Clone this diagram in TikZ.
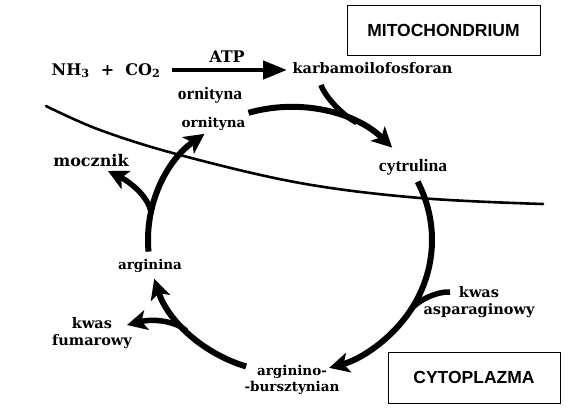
\documentclass[tikz,border=0pt]{standalone}
\usepackage{fontspec}
\setmainfont{DejaVu Serif}
\newfontfamily\timesf{Liberation Serif}
\newfontfamily\arialf{Liberation Sans}
\usetikzlibrary{arrows.meta}
\begin{document}
\begin{tikzpicture}[x=1pt,y=-1pt,
  lbl/.style={font=\fontsize{13.5}{16}\selectfont\bfseries, inner sep=0pt, align=center},
  lblb/.style={font=\fontsize{14.5}{17}\selectfont\bfseries, inner sep=0pt, align=center},
  bigl/.style={font=\fontsize{16}{19}\selectfont\bfseries, inner sep=0pt},
  tlbl/.style={font=\fontsize{17.5}{20}\selectfont\timesf\bfseries, inner sep=0pt},
  boxlbl/.style={draw, line width=1pt, font=\fontsize{17.5}{20}\selectfont\arialf\bfseries},
  tip/.style={-{Stealth[length=20pt,width=20pt,inset=5pt]}},
  cyc/.style={line width=6pt, tip},
  branch/.style={line width=5.5pt},
  membrane/.style={line width=2.6pt, line cap=round},
  atparrow/.style={line width=4.5pt, -{Triangle[length=24pt,width=18pt]}}
]
\useasboundingbox (0,0) rectangle (569,410);

% compartment boxes
\node[boxlbl, minimum width=193pt, minimum height=50pt] (mito) at (443.5,30) {MITOCHONDRIUM};
\node[boxlbl, minimum width=172pt, minimum height=51pt] (cyto) at (474,377.5) {CYTOPLAZMA};

% membrane
\draw[membrane] plot[smooth, tension=0.6] coordinates {(46,106) (100,130) (180,155) (300,183) (420,198) (543,204)};

% labels
\node[bigl, anchor=base] (nh) at (106,75) {NH\textsubscript{3}\ \ +\ \ CO\textsubscript{2}};
\node[bigl, anchor=base] (atp) at (227,62) {ATP};
\node[lblb, anchor=base] (karb) at (372.5,73) {karbamoilofosforan};
\node[tlbl, anchor=base] (orn1) at (210,99) {ornityna};
\node[lbl, anchor=base] (orn2) at (213.5,127) {ornityna};
\node[tlbl, anchor=base] (cyt) at (413,171) {cytrulina};
\node[bigl, anchor=base] (mocz) at (91,166) {mocznik};
\node[lbl, anchor=base] (arg) at (150,269) {arginina};
\node[lblb] (asp) at (479,302) {kwas\\asparaginowy};
\node[lblb] (fum) at (92,333) {kwas\\fumarowy};
\node[lbl] (argb) at (292,380) {arginino-\\-bursztynian};

% ATP arrow
\coordinate (atpS) at (172,70);
\coordinate (atpE) at (287,70);
\draw[atparrow] (atpS) -- (atpE);

% cycle
\coordinate (C) at (290,240);
\draw[cyc] (C) ++(-107:142 and 133) arc[start angle=-107, end angle=-44, x radius=142, y radius=133];
\draw[cyc] (C) ++(-26:142 and 133) arc[start angle=-26, end angle=74, x radius=142, y radius=133];
\draw[cyc] (C) ++(108:142 and 133) arc[start angle=108, end angle=163, x radius=142, y radius=133];
\draw[cyc] (C) ++(175:142 and 133) arc[start angle=175, end angle=233, x radius=142, y radius=133];

% branches
\coordinate (kb0) at (321,85);
\path (C) ++(-62:142 and 133) coordinate (kb1);
\draw[branch] (kb0) .. controls (325,97) and (343.3,115.9) .. (kb1);

\coordinate (as0) at (450,292);
\path (C) ++(32:142 and 133) coordinate (as1);
\draw[branch] (as0) .. controls (440,291) and (418.2,298.9) .. (as1);

\path (C) ++(137:142 and 133) coordinate (fu0);
\coordinate (fu1) at (127,325);
\draw[branch, tip] (fu0) .. controls (177.6,322.2) and (155,318) .. (fu1);

\path (C) ++(192:142 and 133) coordinate (mz0);
\coordinate (mz1) at (108,171);
\draw[branch, tip] (mz0) .. controls (148,196) and (130,182) .. (mz1);
\end{tikzpicture}
\end{document}
